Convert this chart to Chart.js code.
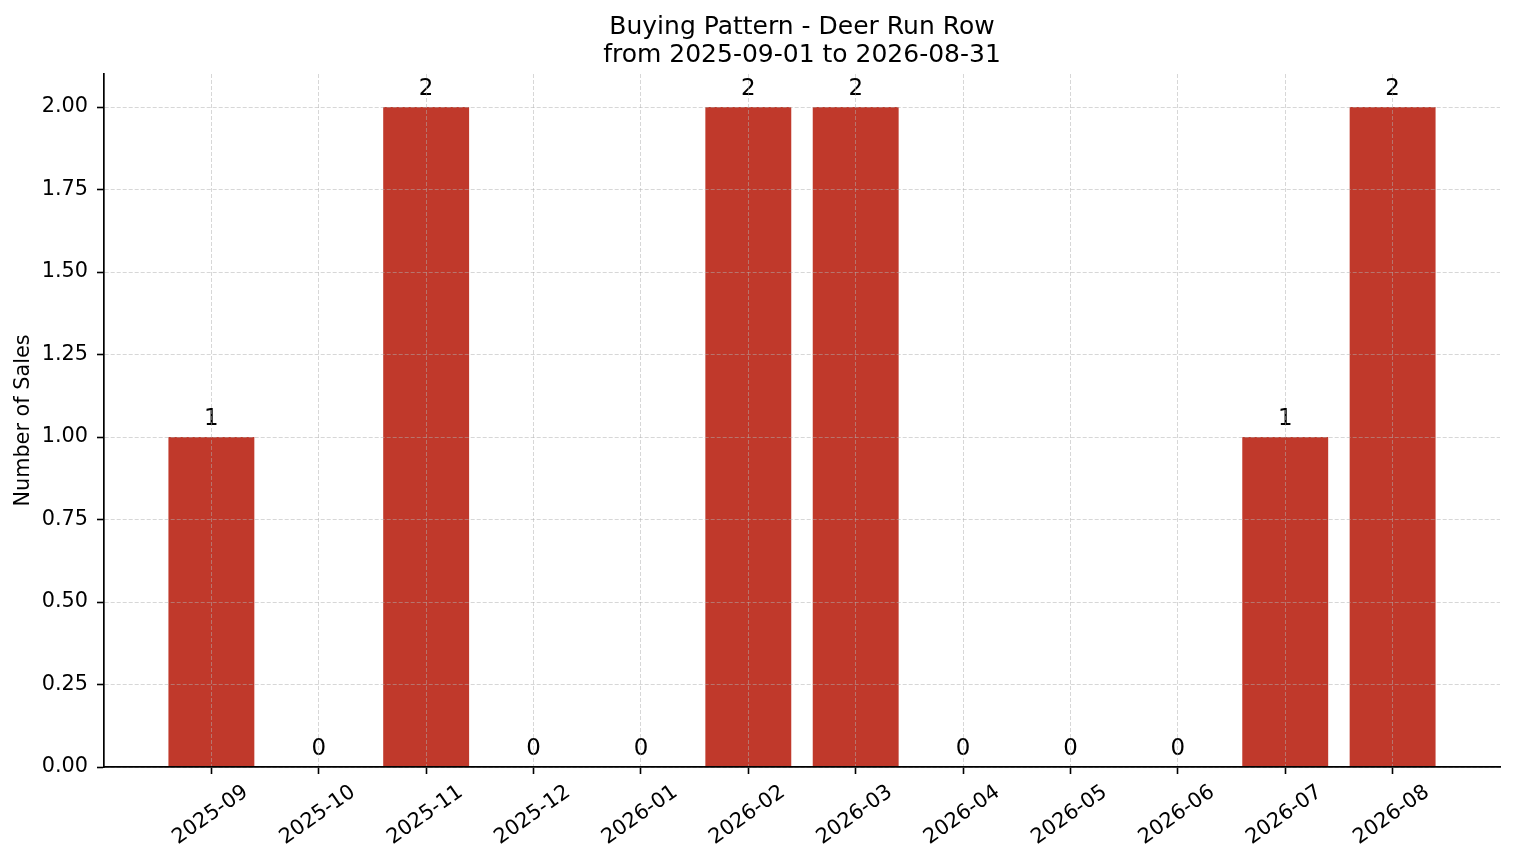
<!DOCTYPE html>
<html>
<head>
<meta charset="utf-8">
<script src="https://cdn.jsdelivr.net/npm/chart.js@4.4.1/dist/chart.umd.min.js"></script>
<style>
  html, body { margin: 0; padding: 0; background: #ffffff; }
  #wrap { width: 1514px; height: 863px; position: relative; }
</style>
</head>
<body>
<div id="wrap"><canvas id="c"></canvas></div>
<script>
// ---- data ----
const months = ['2025-09','2025-10','2025-11','2025-12','2026-01','2026-02','2026-03','2026-04','2026-05','2026-06','2026-07','2026-08'];
const sales = [1, 0, 2, 0, 0, 2, 2, 0, 0, 0, 1, 2];
const titleLines = ['Buying Pattern - Deer Run Row', 'from 2025-09-01 to 2026-08-31'];
const yAxisLabel = 'Number of Sales';

// padded so the category axis spans one extra slot on each side
const labels = [''].concat(months, ['']);
const values = [null].concat(sales, [null]);
const lastIdx = labels.length - 1;

const FONT = "'DejaVu Sans', 'Liberation Sans', sans-serif";
const GRID = 'rgba(176,176,176,0.5)';

const xLabelPlugin = {
  id: 'xLabels',
  afterDraw(chart) {
    const ctx = chart.ctx;
    const xs = chart.scales.x;
    const f = 20.8;
    const ang = 35 * Math.PI / 180;
    ctx.save();
    ctx.font = f + 'px ' + FONT;
    ctx.fillStyle = '#000';
    ctx.textAlign = 'center';
    ctx.textBaseline = 'middle';
    const top = chart.chartArea.bottom + 14.6;
    months.forEach((m, i) => {
      const x = xs.getPixelForValue(i + 1);
      const w = ctx.measureText(m).width;
      const H = w * Math.sin(ang) + f * Math.cos(ang);
      ctx.save();
      ctx.translate(x - 1, top + H / 2);
      ctx.rotate(-ang);
      ctx.fillText(m, 0, 0);
      ctx.restore();
    });
    ctx.restore();
  }
};

const valueLabelPlugin = {
  id: 'valueLabels',
  afterDatasetsDraw(chart) {
    const ctx = chart.ctx;
    const meta = chart.getDatasetMeta(0);
    ctx.save();
    ctx.font = '22.9px ' + FONT;
    ctx.fillStyle = '#000';
    ctx.textAlign = 'center';
    ctx.textBaseline = 'alphabetic';
    sales.forEach((v, i) => {
      const el = meta.data[i + 1];
      ctx.fillText(String(v), el.x, el.y - 12);
    });
    ctx.restore();
  }
};

new Chart(document.getElementById('c'), {
  type: 'bar',
  data: {
    labels: labels,
    datasets: [{
      data: values,
      backgroundColor: '#c0392b',
      borderWidth: 0,
      barPercentage: 0.8,
      categoryPercentage: 1.0
    }]
  },
  options: {
    responsive: true,
    maintainAspectRatio: false,
    animation: false,
    layout: { padding: { left: 0, right: 14, top: 0, bottom: 0 } },
    plugins: {
      legend: { display: false },
      tooltip: { enabled: false },
      title: {
        display: true,
        fullSize: false,
        text: titleLines,
        color: '#000',
        font: { family: FONT, size: 25, weight: 'normal', lineHeight: 1.12 },
        padding: { top: 13, bottom: 5 }
      }
    },
    scales: {
      x: {
        type: 'category',
        offset: false,
        afterFit(s) { s.height = 96; },
        ticks: { display: false, autoSkip: false },
        grid: {
          z: 1,
          offset: false,
          color: (c) => (c.index === 0 || c.index === lastIdx) ? 'rgba(0,0,0,0)' : GRID,
          lineWidth: 1,
          drawTicks: true,
          tickLength: 7,
          tickColor: (c) => (c.index === 0 || c.index === lastIdx) ? 'rgba(0,0,0,0)' : '#000',
          tickWidth: 1.6,
          tickBorderDash: []
        },
        border: { display: true, color: '#000', width: 1.7, z: 2, dash: [4, 2] }
      },
      y: {
        min: 0,
        max: 2.1,
        afterFit(s) { s.width = 104; },
        ticks: {
          stepSize: 0.25,
          includeBounds: false,
          padding: 9,
          color: '#000',
          font: { family: FONT, size: 20.8 },
          callback: (v) => Number(v).toFixed(2)
        },
        title: {
          display: true,
          text: yAxisLabel,
          color: '#000',
          font: { family: FONT, size: 20.8 },
          padding: { top: 11, bottom: 0 }
        },
        grid: {
          z: 1,
          color: GRID,
          lineWidth: 1,
          drawTicks: true,
          tickLength: 7,
          tickColor: '#000',
          tickWidth: 1.6,
          tickBorderDash: []
        },
        border: { display: true, color: '#000', width: 1.7, z: 2, dash: [4, 2] }
      }
    }
  },
  plugins: [xLabelPlugin, valueLabelPlugin]
});
</script>
</body>
</html>
